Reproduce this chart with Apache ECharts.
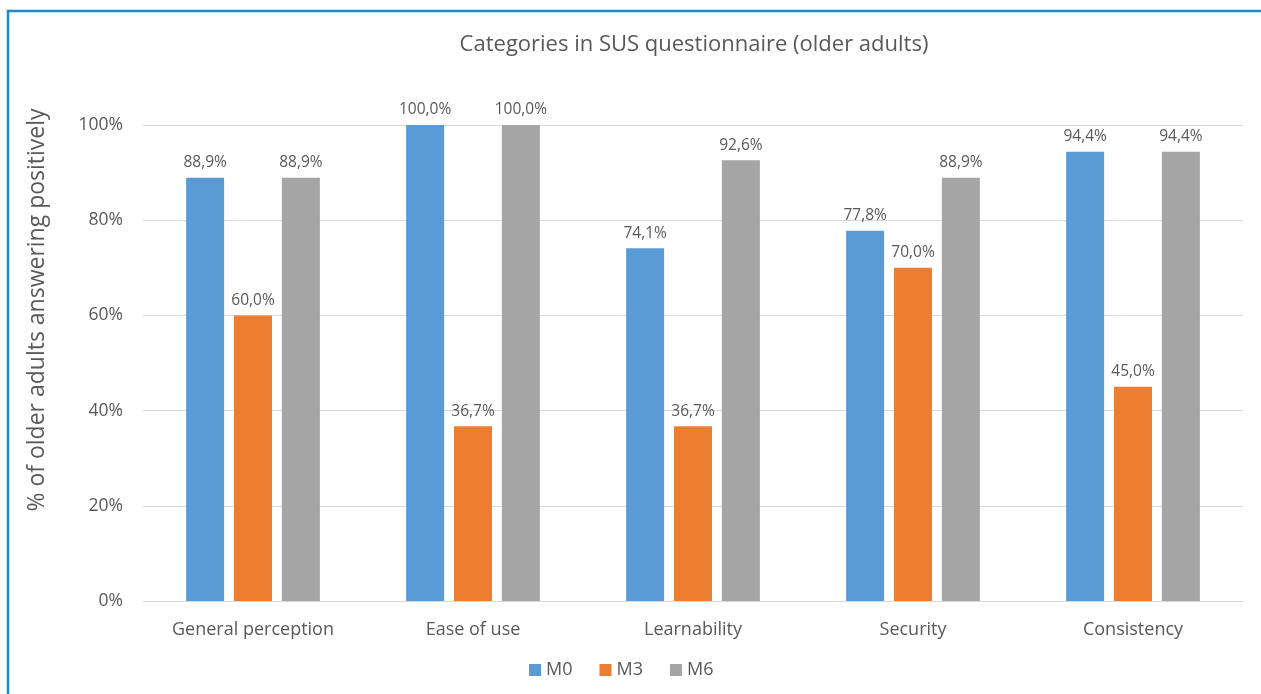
<!DOCTYPE html>
<html>
<head>
<meta charset="utf-8">
<script src="https://cdn.jsdelivr.net/npm/echarts@6/dist/echarts.min.js"></script>
<style>
  html, body { margin: 0; padding: 0; background: #fff; }
  #chart { width: 1261px; height: 694px; }
</style>
</head>
<body>
<div id="chart"></div>
<script>
// SUS questionnaire categories, older adults
const categories = ['General perception', 'Ease of use', 'Learnability', 'Security', 'Consistency'];
const seriesNames = ['M0', 'M3', 'M6'];
const m0Values = [88.9, 100.0, 74.1, 77.8, 94.4];
const m3Values = [60.0, 36.7, 36.7, 70.0, 45.0];
const m6Values = [88.9, 100.0, 92.6, 88.9, 94.4];
const yTicks = [0, 20, 40, 60, 80, 100];

const colors = ['#5b9bd5', '#ed7d31', '#a5a5a5'];
const textColor = '#595959';
const fontFamily = '"Open Sans", "Noto Sans", sans-serif';

const chart = echarts.init(document.getElementById('chart'), null, { renderer: 'canvas' });

function barSeries(name, values, color) {
  return {
    name: name,
    type: 'bar',
    data: values,
    barWidth: 38,
    barGap: '26%',
    itemStyle: { color: color },
    label: {
      show: true,
      position: 'top',
      distance: 7,
      color: textColor,
      fontFamily: fontFamily,
      fontSize: 15.5,
      formatter: p => p.value.toFixed(1).replace('.', ',') + '%'
    }
  };
}

chart.setOption({
  animation: false,
  textStyle: { fontFamily: fontFamily },
  title: {
    text: 'Categories in SUS questionnaire (older adults)',
    left: 689,
    textAlign: 'center',
    top: 29,
    textStyle: { color: textColor, fontSize: 22, fontWeight: 'normal', fontFamily: fontFamily }
  },
  legend: {
    data: seriesNames,
    bottom: 10,
    left: 524,
    itemWidth: 12,
    itemHeight: 12,
    itemGap: 27,
    icon: 'rect',
    textStyle: { color: textColor, fontSize: 18, fontFamily: fontFamily }
  },
  grid: { left: 143, right: 18, top: 125, bottom: 93 },
  xAxis: {
    type: 'category',
    data: categories,
    axisLine: { lineStyle: { color: '#d9d9d9', width: 1 } },
    axisTick: { show: false },
    axisLabel: { color: textColor, fontSize: 18, margin: 20, fontFamily: fontFamily }
  },
  yAxis: {
    type: 'value',
    min: yTicks[0],
    max: yTicks[yTicks.length - 1],
    interval: 20,
    name: '% of older adults answering positively',
    nameLocation: 'middle',
    nameGap: 94,
    nameRotate: 90,
    nameTextStyle: {
      color: textColor,
      fontSize: 23,
      fontFamily: fontFamily,
      padding: [0, 0, 0, 106]
    },
    axisLine: { show: false },
    axisTick: { show: false },
    axisLabel: { color: textColor, fontSize: 17.5, margin: 20, formatter: v => v + '%', fontFamily: fontFamily },
    splitLine: { lineStyle: { color: '#d9d9d9', width: 1 } }
  },
  graphic: [{
    type: 'polyline',
    shape: { points: [[8, 694], [8, 11], [1261, 11]] },
    style: { stroke: '#1a8bc4', lineWidth: 2.5, fill: null },
    silent: true
  }],
  series: [
    barSeries(seriesNames[0], m0Values, colors[0]),
    barSeries(seriesNames[1], m3Values, colors[1]),
    barSeries(seriesNames[2], m6Values, colors[2])
  ]
});
</script>
</body>
</html>
